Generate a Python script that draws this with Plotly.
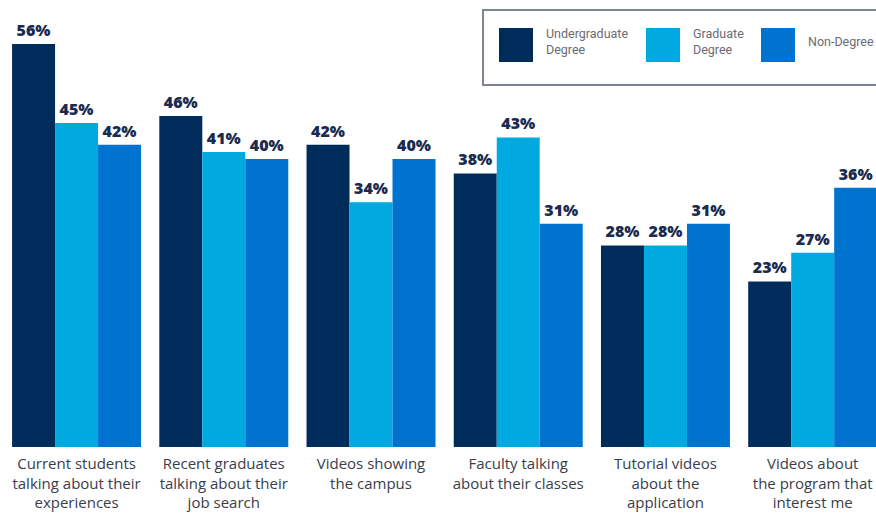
import plotly.graph_objects as go

categories = [
    "Current students<br>talking about their<br>experiences",
    "Recent graduates<br>talking about their<br>job search",
    "Videos showing<br>the campus",
    "Faculty talking<br>about their classes",
    "Tutorial videos<br>about the<br>application",
    "Videos about<br>the program that<br>interest me",
]
series_names = ["Undergraduate<br>Degree", "Graduate<br>Degree", "Non-Degree"]
undergraduate = [56, 46, 42, 38, 28, 23]
graduate = [45, 41, 34, 43, 28, 27]
non_degree = [42, 40, 40, 31, 31, 36]
colors = ["#002c5b", "#00a9e0", "#0072cf"]

W, H = 876, 513
x_idx = list(range(len(categories)))

fig = go.Figure()
for name, vals, col in zip(series_names, [undergraduate, graduate, non_degree], colors):
    fig.add_trace(go.Bar(
        x=x_idx, y=vals, name=name.replace("<br>", " "),
        marker=dict(color=col, line=dict(width=0)),
        text=[f"{v}%" for v in vals], texttemplate="%{text}",
        textposition="outside", cliponaxis=False,
        textfont=dict(family="Open Sans", size=16, color="#1b2b4f", weight=800),
        showlegend=False,
    ))

fig.update_layout(
    width=W, height=H,
    margin=dict(l=0, r=0, t=0, b=66),
    paper_bgcolor="white", plot_bgcolor="white",
    barmode="group", bargap=0.124, bargroupgap=0,
    uniformtext=dict(minsize=16, mode="show"),
    xaxis=dict(range=[-0.52, 5.43], tickmode="array", tickvals=x_idx, ticktext=categories,
               showgrid=False, zeroline=False, showline=False, ticks="",
               ticklabelstandoff=6,
               tickfont=dict(family="Open Sans", size=15, color="#3a3d4b")),
    yaxis=dict(range=[0, 62.1], visible=False),
)

# Legend panel drawn as a framed box with large swatches
plot_h = H - 66
shapes = [dict(type="rect", xref="paper", yref="paper", x0=483 / W, x1=1.05,
               y0=1 - 85 / plot_h, y1=1 - 10 / plot_h,
               line=dict(color="#7d8494", width=2), fillcolor="white", layer="below")]
legend_x = [499, 646, 761]
annotations = []
for lx, col, name in zip(legend_x, colors, series_names):
    shapes.append(dict(type="rect", xref="paper", yref="paper",
                       x0=lx / W, x1=(lx + 34) / W,
                       y0=1 - 62 / plot_h, y1=1 - 28 / plot_h,
                       line=dict(width=0), fillcolor=col))
    annotations.append(dict(xref="paper", yref="paper", x=(lx + 45) / W, y=1 - 42 / plot_h,
                            text=name, showarrow=False, xanchor="left", yanchor="middle",
                            align="left",
                            font=dict(family="Roboto", size=12.5, color="#6b6b73")))
fig.update_layout(shapes=shapes, annotations=annotations)

fig.write_html("out.html")
